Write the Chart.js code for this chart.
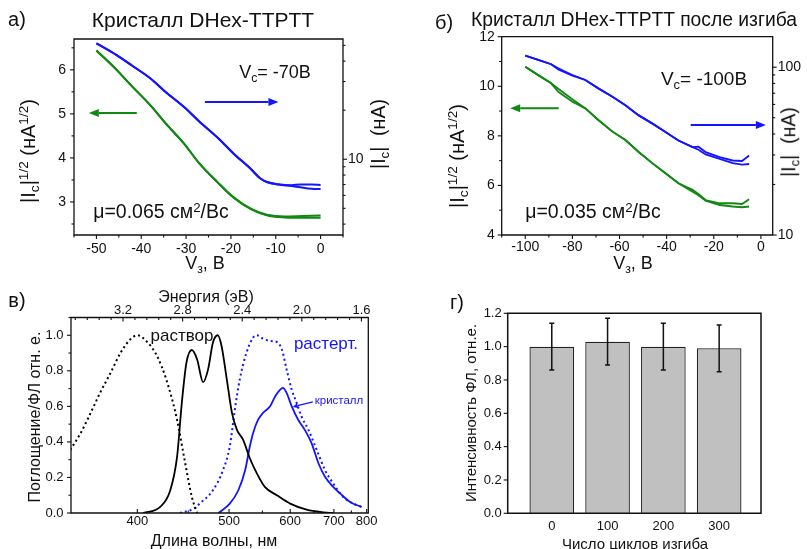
<!DOCTYPE html>
<html lang="ru">
<head>
<meta charset="utf-8">
<title>DHex-TTPTT</title>
<script src="https://cdn.jsdelivr.net/npm/chart.js@4.4.1/dist/chart.umd.min.js"></script>
<style>
html,body{margin:0;padding:0;background:#fff;}
#fig{position:relative;width:807px;height:549px;overflow:hidden;font-family:"Liberation Sans",Arial,sans-serif;color:#111;}
#fig canvas{position:absolute;}
.t{position:absolute;white-space:nowrap;line-height:1;transform:translate(-50%,-50%);}
.t.r{transform:translate(-50%,-50%) rotate(-90deg);}
.t sub,.t sup{font-size:68%;line-height:0;position:relative;vertical-align:baseline;}
.t sub{top:0.32em;}
.t sup{top:-0.48em;}
.blue{color:#1414ff;}
</style>
</head>
<body>
<div id="fig">
<canvas id="cA" width="400" height="270" style="left:0;top:0"></canvas>
<canvas id="cB" width="407" height="270" style="left:400px;top:0"></canvas>
<canvas id="cC" width="400" height="279" style="left:0;top:270px"></canvas>
<canvas id="cD" width="407" height="279" style="left:400px;top:270px"></canvas>

<!-- а) -->
<div class="t" style="left:17px;top:19px;font-size:20px">а)</div>
<div class="t" style="left:203px;top:19px;font-size:21px">Кристалл DHex-TTPTT</div>
<div class="t" style="left:275px;top:72px;font-size:18px">V<sub>c</sub>= -70B</div>
<div class="t" style="left:161px;top:212px;font-size:19.5px">μ=0.065 см<sup>2</sup>/Вс</div>
<div class="t r" style="left:28px;top:151px;font-size:20px">|I<sub>c</sub>|<sup>1/2</sup> (нА<sup>1/2</sup>)</div>
<div class="t r" style="left:379px;top:134px;font-size:19.5px">|I<sub>c</sub>| &nbsp;(нА)</div>
<div class="t" style="left:205px;top:263px;font-size:18px">V<sub>з</sub>, B</div>

<!-- б) -->
<div class="t" style="left:444px;top:22px;font-size:20px">б)</div>
<div class="t" style="left:634px;top:20px;font-size:19.3px">Кристалл DHex-TTPTT после изгиба</div>
<div class="t" style="left:704px;top:78px;font-size:19px">V<sub>c</sub>= -100B</div>
<div class="t" style="left:593px;top:212px;font-size:19.5px">μ=0.035 см<sup>2</sup>/Вс</div>
<div class="t r" style="left:457px;top:156px;font-size:20px">|I<sub>c</sub>|<sup>1/2</sup> (нА<sup>1/2</sup>)</div>
<div class="t r" style="left:789px;top:142px;font-size:19.5px">|I<sub>c</sub>| &nbsp;(нА)</div>
<div class="t" style="left:633px;top:263px;font-size:18px">V<sub>з</sub>, B</div>

<!-- в) -->
<div class="t" style="left:17px;top:300px;font-size:20px">в)</div>
<div class="t" style="left:206px;top:297px;font-size:16px">Энергия (эВ)</div>
<div class="t" style="left:214px;top:541px;font-size:16px">Длина волны, нм</div>
<div class="t r" style="left:35px;top:417px;font-size:16px">Поглощение/ФЛ отн. е.</div>
<div class="t" style="left:182px;top:335px;font-size:17px">раствор</div>
<div class="t blue" style="left:326px;top:343px;font-size:17px">растерт.</div>
<div class="t blue" style="left:339px;top:401px;font-size:11.5px">кристалл</div>

<!-- г) -->
<div class="t" style="left:457px;top:302px;font-size:20px">г)</div>
<div class="t r" style="left:470px;top:413px;font-size:15px">Интенсивность ФЛ, отн.е.</div>
<div class="t" style="left:635px;top:543px;font-size:15px">Число циклов изгиба</div>
</div>

<script>
// ---------- а) crystal, Vc = -70 V : forward / reverse sweeps ----------
const vgA_green   = [-50, -45.5, -42, -38, -34.5, -30.5, -27, -23, -19.5, -15.5, -12, -8, -4, 0];
const sqrtIdA_fwd = [6.44, 6.00, 5.62, 5.20, 4.78, 4.33, 3.87, 3.45, 3.11, 2.84, 2.71, 2.67, 2.68, 2.69];
const sqrtIdA_rev = [6.44, 6.00, 5.62, 5.20, 4.78, 4.33, 3.87, 3.45, 3.11, 2.84, 2.70, 2.65, 2.64, 2.64];
const vgA_blue    = [-50, -45.5, -42, -38, -34.5, -30.5, -27, -23, -19.5, -15.5, -13.5, -12, -9.5, -6.5, -4.5, -2, 0];
const idA_fwd     = [51.5, 43.6, 37.5, 31.4, 25.8, 21.0, 17.0, 13.6, 10.9, 8.68, 7.64, 7.25, 7.03, 6.93, 7.00, 6.99, 6.96];
const idA_rev     = [51.5, 43.6, 37.5, 31.4, 25.8, 21.0, 17.0, 13.6, 10.9, 8.68, 7.64, 7.25, 7.00, 6.85, 6.73, 6.60, 6.57];
const ticksA_x    = [-50, -40, -30, -20, -10, 0];
const ticksA_y    = [3, 4, 5, 6];
const ticksA_y2   = [10];

// ---------- б) crystal after bending, Vc = -100 V ----------
const vgB         = [-100, -94.5, -89, -86, -80, -74.5, -69, -63, -57.5, -52, -46, -40.5, -35, -29, -26.5, -23.5, -17.5, -12, -8, -5];
const sqrtIdB_fwd = [10.79, 10.45, 10.12, 9.90, 9.48, 9.11, 8.64, 8.17, 7.83, 7.36, 6.89, 6.49, 6.09, 5.82, 5.66, 5.41, 5.28, 5.28, 5.25, 5.44];
const sqrtIdB_rev = [10.79, 10.45, 10.12, 9.78, 9.38, 9.11, 8.64, 8.17, 7.83, 7.36, 6.89, 6.49, 6.09, 5.75, 5.60, 5.38, 5.21, 5.15, 5.12, 5.15];
const idB_fwd     = [117.4, 110.6, 104.2, 98.6, 89.9, 83.9, 74.8, 66.6, 59.4, 51.8, 46.1, 41.1, 36.6, 33.4, 33.6, 31.2, 29.1, 27.8, 27.6, 29.8];
const idB_rev     = [117.4, 110.6, 104.2, 96.8, 89.2, 83.9, 74.8, 66.6, 59.4, 51.8, 46.1, 41.1, 36.6, 33.4, 32.2, 30.2, 28.4, 26.8, 26.3, 26.5];
const ticksB_x    = [-100, -80, -60, -40, -20, 0];
const ticksB_y    = [4, 6, 8, 10, 12];
const ticksB_y2   = [10, 100];

// ---------- в) absorption / photoluminescence spectra ----------
const solAbsNm    = [349, 356, 363, 370, 378, 386, 394, 400, 408, 418, 427, 438, 446, 454, 460];
const solAbs      = [0.355, 0.449, 0.562, 0.676, 0.789, 0.902, 0.977, 1.0, 0.968, 0.883, 0.751, 0.524, 0.298, 0.09, 0.0];
const solPlNm     = [405, 421, 431, 438, 443, 448, 454, 460, 467, 473, 479, 485, 490, 497, 504, 511, 520, 530, 541, 554, 575, 600, 634, 673, 698];
const solPl       = [0, 0.034, 0.128, 0.317, 0.62, 0.846, 0.917, 0.864, 0.736, 0.808, 0.959, 1.0, 0.94, 0.751, 0.563, 0.468, 0.411, 0.308, 0.223, 0.147, 0.1, 0.053, 0.019, 0.004, 0];
const groundPlNm  = [441, 456, 463, 479, 492, 501, 508, 515, 525, 535, 541, 551, 563, 575, 584, 593, 603, 613, 623, 638, 657, 677, 698, 726, 756, 783];
const groundPl    = [0, 0.024, 0.053, 0.128, 0.242, 0.374, 0.581, 0.751, 0.902, 0.987, 1.0, 0.981, 0.968, 0.962, 0.921, 0.808, 0.694, 0.619, 0.543, 0.468, 0.355, 0.242, 0.166, 0.09, 0.053, 0.034];
const crystalPlNm = [486, 501, 513, 523, 530, 535, 543, 551, 563, 572, 581, 586, 593, 603, 616, 630, 645, 661, 677, 698, 717, 746, 783];
const crystalPl   = [0, 0.053, 0.128, 0.242, 0.374, 0.449, 0.525, 0.563, 0.6, 0.657, 0.694, 0.704, 0.676, 0.6, 0.525, 0.468, 0.393, 0.28, 0.204, 0.147, 0.11, 0.062, 0.034];
const ticksC_nm   = [400, 500, 600, 700, 800];
const minorC_nm   = [450, 550, 650, 750];
const ticksC_eV   = [3.2, 2.8, 2.4, 2.0, 1.6];
const ticksC_y    = [0, 0.2, 0.4, 0.6, 0.8, 1.0];

// ---------- г) PL intensity vs bending cycles ----------
const cycles      = [0, 100, 200, 300];
const plIntensity = [1.0, 1.03, 1.0, 0.99];
const plError     = [0.14, 0.14, 0.14, 0.14];
const ticksD_y    = [0, 0.2, 0.4, 0.6, 0.8, 1.0, 1.2];

// wavelength (nm) -> photon energy (eV), used as the spectral axis coordinate
const HC = 1240;
const eV = nm => HC / nm;

const GREEN = '#118811';
const BLUE  = '#1414ff';
const INK   = '#111';

Chart.defaults.font.family = '"Liberation Sans", Arial, sans-serif';
Chart.defaults.font.size = 14;
Chart.defaults.color = INK;

const pts = (xs, ys) => xs.map((x, i) => ({x: x, y: ys[i]}));

// frame around the plot area plus major/minor tick marks
function frameAndTicks(spec) {
  return {
    id: 'frameAndTicks',
    afterDraw(chart) {
      const ctx = chart.ctx, a = chart.chartArea;
      ctx.save();
      ctx.strokeStyle = INK;
      ctx.lineWidth = spec.lw || 1.3;
      ctx.beginPath();
      ctx.rect(a.left, a.top, a.right - a.left, a.bottom - a.top);
      ctx.stroke();
      ctx.lineWidth = 1.1;
      spec.axes.forEach(ax => {
        const s = chart.scales[ax.id];
        const sgn = ax.dir === 'in' ? -1 : 1;
        const mark = (v, len) => {
          if (v < s.min - 1e-9 || v > s.max + 1e-9) return;
          const p = s.getPixelForValue(v);
          ctx.beginPath();
          if (ax.side === 'left')        { ctx.moveTo(a.left, p);   ctx.lineTo(a.left - sgn * len, p); }
          else if (ax.side === 'right')  { ctx.moveTo(a.right, p);  ctx.lineTo(a.right + sgn * len, p); }
          else if (ax.side === 'bottom') { ctx.moveTo(p, a.bottom); ctx.lineTo(p, a.bottom + sgn * len); }
          else                           { ctx.moveTo(p, a.top);    ctx.lineTo(p, a.top - sgn * len); }
          ctx.stroke();
        };
        (ax.major || []).forEach(v => mark(v, ax.majorLen || 4));
        (ax.minor || []).forEach(v => mark(v, ax.minorLen || 2.5));
      });
      ctx.restore();
    }
  };
}

// arrows placed in data coordinates
function arrows(list) {
  return {
    id: 'arrows',
    afterDatasetsDraw(chart) {
      const ctx = chart.ctx;
      list.forEach(ar => {
        const xs = chart.scales[ar.x], ys = chart.scales[ar.y];
        const x0 = xs.getPixelForValue(ar.from[0]), y0 = ys.getPixelForValue(ar.from[1]);
        const x1 = xs.getPixelForValue(ar.to[0]),   y1 = ys.getPixelForValue(ar.to[1]);
        const ang = Math.atan2(y1 - y0, x1 - x0), hl = ar.head || 10, hw = ar.hw || 4;
        const bx = x1 - hl * Math.cos(ang), by = y1 - hl * Math.sin(ang);
        ctx.save();
        ctx.strokeStyle = ar.color; ctx.fillStyle = ar.color; ctx.lineWidth = ar.lw || 2;
        ctx.beginPath(); ctx.moveTo(x0, y0); ctx.lineTo(bx, by); ctx.stroke();
        ctx.beginPath();
        ctx.moveTo(x1, y1);
        ctx.lineTo(bx - hw * Math.sin(ang), by + hw * Math.cos(ang));
        ctx.lineTo(bx + hw * Math.sin(ang), by - hw * Math.cos(ang));
        ctx.closePath(); ctx.fill();
        ctx.restore();
      });
    }
  };
}

// error bars for the bar chart
const errorBars = {
  id: 'errorBars',
  afterDatasetsDraw(chart) {
    const ctx = chart.ctx, xs = chart.scales.x, ys = chart.scales.y;
    ctx.save();
    ctx.strokeStyle = INK; ctx.lineWidth = 1.5;
    cycles.forEach((c, i) => {
      const x = xs.getPixelForValue(c);
      const yt = ys.getPixelForValue(plIntensity[i] + plError[i]);
      const yb = ys.getPixelForValue(plIntensity[i] - plError[i]);
      ctx.beginPath();
      ctx.moveTo(x, yt); ctx.lineTo(x, yb);
      ctx.moveTo(x - 2.5, yt); ctx.lineTo(x + 2.5, yt);
      ctx.moveTo(x - 2.5, yb); ctx.lineTo(x + 2.5, yb);
      ctx.stroke();
    });
    ctx.restore();
  }
};

function axis(o) {
  const t = Object.assign({autoSkip: false, maxRotation: 0, minRotation: 0, color: INK}, o.ticks || {});
  const cfg = Object.assign({}, o, {
    grid: {display: false, drawTicks: false},
    border: {display: false},
    ticks: t
  });
  if (o.list) cfg.afterBuildTicks = s => { s.ticks = o.list.map(v => ({value: v})); };
  if (o.w !== undefined) cfg.afterFit = s => { s.width = o.w; };
  if (o.h !== undefined) cfg.afterFit = s => { s.height = o.h; };
  delete cfg.list; delete cfg.w; delete cfg.h;
  return cfg;
}

const base = {
  responsive: false,
  animation: false,
  events: [],
  plugins: {legend: {display: false}, tooltip: {enabled: false}, title: {display: false}},
  elements: {point: {radius: 0}}
};

function line(data, color, yAxisID, extra) {
  return Object.assign({data: data, borderColor: color, backgroundColor: color, borderWidth: 2,
    fill: false, yAxisID: yAxisID, cubicInterpolationMode: 'monotone', pointRadius: 0}, extra || {});
}

// ---------------- а) ----------------
new Chart(document.getElementById('cA'), {
  type: 'line',
  data: {datasets: [
    line(pts(vgA_green, sqrtIdA_fwd), GREEN, 'y'),
    line(pts(vgA_green, sqrtIdA_rev), GREEN, 'y'),
    line(pts(vgA_blue, idA_fwd), BLUE, 'y2'),
    line(pts(vgA_blue, idA_rev), BLUE, 'y2')
  ]},
  options: Object.assign({}, base, {
    layout: {padding: {top: 39, left: 0, right: 0, bottom: 0}},
    scales: {
      x:  axis({type: 'linear', position: 'bottom', min: -55, max: 5, list: ticksA_x, h: 35, ticks: {padding: 6}}),
      y:  axis({type: 'linear', position: 'left', min: 2.25, max: 6.7, list: ticksA_y, w: 74, ticks: {padding: 8}}),
      y2: axis({type: 'logarithmic', position: 'right', min: 3.43, max: 54.7, list: ticksA_y2, w: 57,
                ticks: {padding: 5, callback: v => String(v)}})
    }
  }),
  plugins: [
    frameAndTicks({axes: [
      {id: 'x', side: 'bottom', major: ticksA_x, minor: [-55, -45, -35, -25, -15, -5, 5]},
      {id: 'y', side: 'left', major: ticksA_y, minor: [2.5, 3.5, 4.5, 5.5, 6.5]},
      {id: 'y2', side: 'right', major: ticksA_y2, minor: [4, 5, 6, 7, 8, 9, 20, 30, 40, 50]}
    ]}),
    arrows([
      {x: 'x', y: 'y', from: [-41, 5.02], to: [-51.7, 5.02], color: GREEN},
      {x: 'x', y: 'y', from: [-25.8, 5.27], to: [-9.4, 5.27], color: BLUE}
    ])
  ]
});

// ---------------- б) ----------------
const straight = {cubicInterpolationMode: 'default', tension: 0, borderWidth: 1.8};
new Chart(document.getElementById('cB'), {
  type: 'line',
  data: {datasets: [
    line(pts(vgB, sqrtIdB_fwd), GREEN, 'y', straight),
    line(pts(vgB, sqrtIdB_rev), GREEN, 'y', straight),
    line(pts(vgB, idB_fwd), BLUE, 'y2', straight),
    line(pts(vgB, idB_rev), BLUE, 'y2', straight)
  ]},
  options: Object.assign({}, base, {
    layout: {padding: {top: 36.7, left: 0, right: 0, bottom: 0}},
    scales: {
      x:  axis({type: 'linear', position: 'bottom', min: -110, max: 5, list: ticksB_x, h: 35, ticks: {padding: 4}}),
      y:  axis({type: 'linear', position: 'left', min: 4, max: 12, list: ticksB_y, w: 101.7, ticks: {padding: 7}}),
      y2: axis({type: 'logarithmic', position: 'right', min: 10, max: 152, list: ticksB_y2, w: 34.3,
                ticks: {padding: 5, callback: v => String(v)}})
    }
  }),
  plugins: [
    frameAndTicks({axes: [
      {id: 'x', side: 'bottom', major: ticksB_x, minor: [-110, -90, -70, -50, -30, -10]},
      {id: 'y', side: 'left', major: ticksB_y, minor: [5, 7, 9, 11]},
      {id: 'y2', side: 'right', major: ticksB_y2, minor: [20, 30, 40, 50, 60, 70, 80, 90]}
    ]}),
    arrows([
      {x: 'x', y: 'y', from: [-85.8, 9.11], to: [-106.4, 9.11], color: GREEN},
      {x: 'x', y: 'y', from: [-29.8, 8.44], to: [2.1, 8.44], color: BLUE}
    ])
  ]
});

// ---------------- в) ----------------
const spec = (nm, v) => nm.map((l, i) => ({x: eV(l), y: v[i]}));
const eVminor = [];
ticksC_eV.forEach(e => { for (let k = -4; k <= 4; k++) { const v = +(e + 0.08 * k).toFixed(2); if (k !== 0 && !eVminor.includes(v) && !ticksC_eV.includes(v)) eVminor.push(v); } });

new Chart(document.getElementById('cC'), {
  type: 'line',
  data: {datasets: [
    line(spec(solAbsNm, solAbs), '#000', 'y', {borderDash: [2, 3], borderWidth: 2}),
    line(spec(solPlNm, solPl), '#000', 'y', {borderWidth: 1.8}),
    line(spec(groundPlNm, groundPl), BLUE, 'y', {borderDash: [2, 3], borderWidth: 2}),
    line(spec(crystalPlNm, crystalPl), BLUE, 'y', {borderWidth: 1.8})
  ]},
  options: Object.assign({}, base, {
    layout: {padding: {top: 0, left: 0, right: 31.7, bottom: 0}},
    scales: {
      x:    axis({type: 'linear', position: 'bottom', reverse: true, min: 1.539, max: 3.548,
                  list: ticksC_nm.map(eV), h: 36,
                  ticks: {padding: 1, font: {size: 13}, callback: v => String(Math.round(HC / v))}}),
      xTop: axis({type: 'linear', position: 'top', reverse: true, min: 1.554, max: 3.549,
                  list: ticksC_eV, h: 47.5,
                  ticks: {padding: -1, font: {size: 13}, callback: v => v.toFixed(1)}}),
      y:    axis({type: 'linear', position: 'left', min: 0, max: 1.1, list: ticksC_y, w: 71,
                  ticks: {padding: 7.5, font: {size: 13}, callback: v => v.toFixed(1)}})
    }
  }),
  plugins: [
    frameAndTicks({axes: [
      {id: 'x', side: 'bottom', dir: 'in', major: ticksC_nm.map(eV), minor: minorC_nm.map(eV)},
      {id: 'xTop', side: 'top', dir: 'in', major: ticksC_eV, minor: eVminor},
      {id: 'y', side: 'left', major: ticksC_y, minor: [0.1, 0.3, 0.5, 0.7, 0.9, 1.1]}
    ]}),
    arrows([
      {x: 'x', y: 'y', from: [eV(648), 0.625], to: [eV(605), 0.597], color: BLUE, lw: 1.2, head: 5, hw: 2.5}
    ])
  ]
});

// ---------------- г) ----------------
new Chart(document.getElementById('cD'), {
  type: 'bar',
  data: {datasets: [{
    data: pts(cycles, plIntensity),
    backgroundColor: '#c0c0c0',
    borderColor: '#222',
    borderWidth: 1.3,
    barPercentage: 0.8,
    categoryPercentage: 1.0
  }]},
  options: Object.assign({}, base, {
    layout: {padding: {top: 43.3, left: 0, right: 46, bottom: 0}},
    scales: {
      x: axis({type: 'linear', position: 'bottom', offset: false, min: -79, max: 375, list: cycles, h: 35.7,
               ticks: {padding: 5, font: {size: 13}}}),
      y: axis({type: 'linear', position: 'left', min: 0, max: 1.2, list: ticksD_y, w: 107.7,
               ticks: {padding: 6, font: {size: 13}, callback: v => v.toFixed(1)}})
    }
  }),
  plugins: [
    errorBars,
    frameAndTicks({lw: 1.5, axes: [
      {id: 'y', side: 'left', major: ticksD_y}
    ]})
  ]
});
</script>
</body>
</html>
